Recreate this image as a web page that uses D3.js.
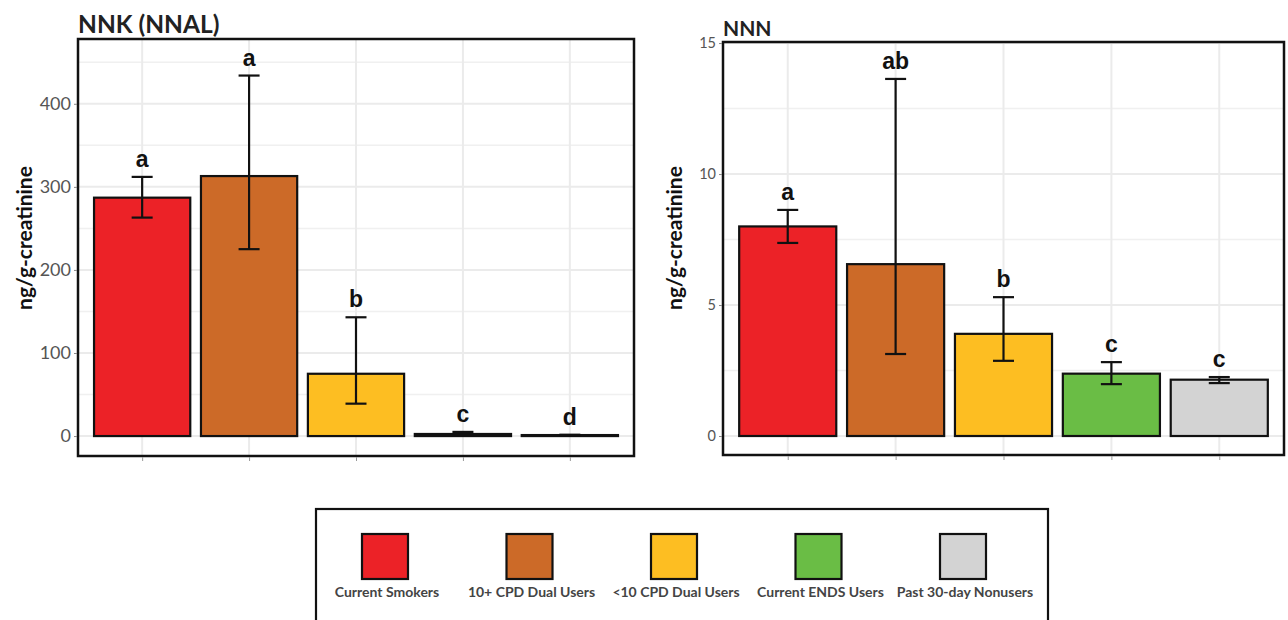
<!DOCTYPE html>
<html>
<head>
<meta charset="utf-8">
<script src="https://d3js.org/d3.v7.min.js"></script>
<style>
  body { margin: 0; background: #fff; }
  svg { display: block; }
</style>
</head>
<body>
<div id="chart"></div>
<script>
// groups and colours, shared by both panels
var groups = ["Current Smokers", "10+ CPD Dual Users", "<10 CPD Dual Users", "Current ENDS Users", "Past 30-day Nonusers"];
var groupColors = ["#ec2227", "#cc6a28", "#fdbe22", "#6abd45", "#d3d3d3"];

// NNK (NNAL) panel, ng/g-creatinine
var nnkMean = [287, 313, 75, 2.5, 1.2];
var nnkLow = [263, 225, 39, 1.5, 0.8];
var nnkHigh = [312, 434, 143, 5, 1.6];
var nnkLetters = ["a", "a", "b", "c", "d"];
var nnkTicks = [0, 100, 200, 300, 400];
var nnkMinor = [50, 150, 250, 350, 450];

// NNN panel, ng/g-creatinine
var nnnMean = [8.0, 6.56, 3.9, 2.38, 2.15];
var nnnLow = [7.37, 3.13, 2.87, 1.98, 2.02];
var nnnHigh = [8.63, 13.63, 5.3, 2.82, 2.25];
var nnnLetters = ["a", "ab", "b", "c", "c"];
var nnnTicks = [0, 5, 10, 15];
var nnnMinor = [2.5, 7.5, 12.5];

var W = 1288, H = 620;
var svg = d3.select("#chart").append("svg").attr("width", W).attr("height", H);

function panel(cfg){
  var x0 = cfg.x0, x1 = cfg.x1, y0 = cfg.y0, y1 = cfg.y1;
  var step = (x1 - x0) / (groups.length - 1 + 1.2);
  var x = d3.scalePoint().domain(groups).range([x0 + 0.6*step, x1 - 0.6*step]);
  var y = d3.scaleLinear().domain(cfg.domain).range([y1, y0]);
  var bw = step * 0.9;
  var g = svg.append("g");

  // grid
  g.selectAll(".minor").data(cfg.minor).enter().append("line")
    .attr("x1", x0).attr("x2", x1)
    .attr("y1", function(d){return y(d);}).attr("y2", function(d){return y(d);})
    .style("stroke", "#f0f0f0").style("stroke-width", 1.5);
  g.selectAll(".major").data(cfg.ticks).enter().append("line")
    .attr("x1", x0).attr("x2", x1)
    .attr("y1", function(d){return y(d);}).attr("y2", function(d){return y(d);})
    .style("stroke", "#ebebeb").style("stroke-width", 2);
  g.selectAll(".vgrid").data(groups).enter().append("line")
    .attr("x1", function(d){return x(d);}).attr("x2", function(d){return x(d);})
    .attr("y1", y0).attr("y2", y1)
    .style("stroke", "#ebebeb").style("stroke-width", 2);

  // bars
  g.selectAll(".bar").data(groups).enter().append("rect")
    .attr("x", function(d){return x(d) - bw/2;})
    .attr("width", bw)
    .attr("y", function(d, i){return y(cfg.mean[i]);})
    .attr("height", function(d, i){return y(0) - y(cfg.mean[i]);})
    .style("fill", function(d, i){return groupColors[i];})
    .style("stroke", "#111").style("stroke-width", 2.2);

  // error bars
  var cap = 10.5;
  groups.forEach(function(d, i){
    var cx = x(d);
    var e = g.append("g").style("stroke", "#111").style("stroke-width", 2.2);
    e.append("line").attr("x1", cx).attr("x2", cx).attr("y1", y(cfg.high[i])).attr("y2", y(cfg.low[i]));
    e.append("line").attr("x1", cx-cap).attr("x2", cx+cap).attr("y1", y(cfg.high[i])).attr("y2", y(cfg.high[i]));
    e.append("line").attr("x1", cx-cap).attr("x2", cx+cap).attr("y1", y(cfg.low[i])).attr("y2", y(cfg.low[i]));
  });

  // letters
  g.selectAll(".letter").data(groups).enter().append("text")
    .attr("x", function(d){return x(d);})
    .attr("y", function(d, i){return y(cfg.high[i]) - 10;})
    .attr("text-anchor", "middle")
    .style("font-family", "Liberation Sans, Arial, sans-serif")
    .style("font-weight", "bold")
    .style("font-size", "23px")
    .style("fill", "#111")
    .text(function(d, i){return cfg.letters[i];});

  // frame
  g.append("rect").attr("x", x0).attr("y", y0).attr("width", x1-x0).attr("height", y1-y0)
    .style("fill", "none").style("stroke", "#111").style("stroke-width", 2.5);

  // y axis
  var ya = g.append("g").attr("transform", "translate(" + (x0-1) + ",0)")
    .call(d3.axisLeft(y).tickValues(cfg.ticks).tickSize(3).tickPadding(3));
  ya.select(".domain").remove();
  ya.selectAll(".tick line").style("stroke", "#888");
  ya.selectAll("text").style("font-family", "Lato, sans-serif")
    .style("font-size", cfg.tickSize + "px").style("fill", "#555");

  // x ticks without labels
  var xa = g.append("g").attr("transform", "translate(0," + (y1+1) + ")")
    .call(d3.axisBottom(x).tickSize(4).tickFormat(""));
  xa.select(".domain").remove();
  xa.selectAll(".tick line").style("stroke", "#999");

  // title
  g.append("text").attr("x", x0).attr("y", y0 - 6)
    .style("font-family", "Lato, sans-serif").style("font-weight", "bold")
    .style("font-size", cfg.titleSize + "px").style("fill", "#222")
    .text(cfg.title);

  // y title
  g.append("text")
    .attr("transform", "translate(" + cfg.yTitleX + "," + 238 + ") rotate(-90)")
    .attr("text-anchor", "middle")
    .style("font-family", "Lato, sans-serif").style("font-weight", "bold")
    .style("font-size", "21px").style("fill", "#111")
    .text("ng/g-creatinine");
}

panel({x0: 78, x1: 634, y0: 39, y1: 456, domain: [-24, 478],
  mean: nnkMean, low: nnkLow, high: nnkHigh, letters: nnkLetters,
  ticks: nnkTicks, minor: nnkMinor, tickSize: 18, title: "NNK (NNAL)", titleSize: 24.5, yTitleX: 32});

panel({x0: 723, x1: 1284, y0: 42, y1: 455, domain: [-0.725, 15.04],
  mean: nnnMean, low: nnnLow, high: nnnHigh, letters: nnnLetters,
  ticks: nnnTicks, minor: nnnMinor, tickSize: 14.5, title: "NNN", titleSize: 21, yTitleX: 682});

// legend
var leg = svg.append("g");
leg.append("rect").attr("x", 316).attr("y", 509).attr("width", 732).attr("height", 130)
  .style("fill", "#fff").style("stroke", "#111").style("stroke-width", 2.2);
var lx = d3.scalePoint().domain(groups).range([385, 963]);
leg.selectAll(".sw").data(groups).enter().append("rect")
  .attr("x", function(d){return lx(d) - 23;}).attr("y", 534)
  .attr("width", 46).attr("height", 45)
  .style("fill", function(d, i){return groupColors[i];})
  .style("stroke", "#111").style("stroke-width", 2.2);
leg.selectAll(".lbl").data(groups).enter().append("text")
  .attr("x", function(d){return lx(d) + 2;}).attr("y", 597)
  .attr("text-anchor", "middle")
  .style("font-family", "Lato, sans-serif").style("font-weight", "bold")
  .style("font-size", "14px").style("fill", "#444")
  .text(function(d){return d;});
</script>
</body>
</html>
